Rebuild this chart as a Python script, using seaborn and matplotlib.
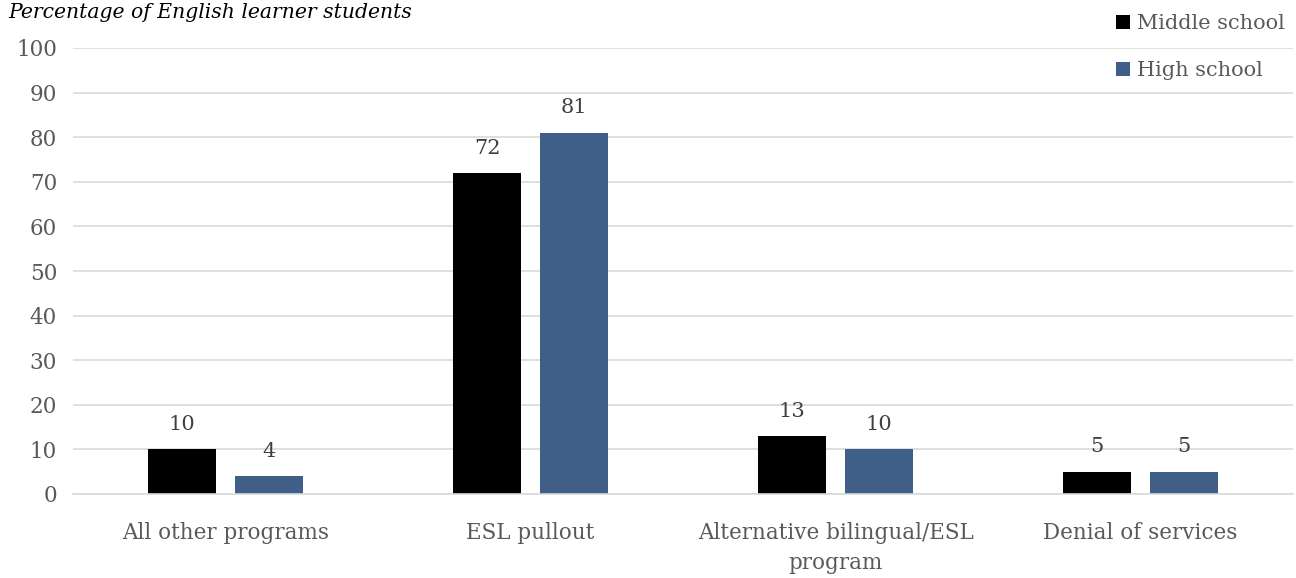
import matplotlib
matplotlib.use("Agg")
import matplotlib.pyplot as plt
import seaborn as sns
import pandas as pd

categories = ["All other programs", "ESL pullout", "Alternative bilingual/ESL\nprogram", "Denial of services"]
middle_school = [10, 72, 13, 5]
high_school = [4, 81, 10, 5]
series_names = ["Middle school", "High school"]
yticks = [0, 10, 20, 30, 40, 50, 60, 70, 80, 90, 100]

df = pd.DataFrame({
    "category": categories * 2,
    "value": middle_school + high_school,
    "series": [series_names[0]] * 4 + [series_names[1]] * 4,
})

sns.set_theme(style="white")
plt.rcParams["font.family"] = ["DejaVu Serif"]

fig = plt.figure(figsize=(12.96, 5.78), dpi=100)
ax = fig.add_axes([73 / 1296, 84 / 578, 1220 / 1296, 446 / 578])

palette = {series_names[0]: "#000000", series_names[1]: "#3F5E88"}
sns.barplot(data=df, x="category", y="value", hue="series", order=categories,
            hue_order=series_names, palette=palette, width=0.57, gap=0.22,
            saturation=1, ax=ax, legend=True, edgecolor="none")

text_col = "#595959"
for cont in ax.containers:
    ax.bar_label(cont, labels=[f"{v:.0f}" for v in cont.datavalues], padding=11,
                 fontsize=15, color="#404040")

ax.set_ylim(0, 100)
ax.set_xlim(-0.5, 3.5)
ax.set_yticks(yticks)
ax.yaxis.grid(True, color="#d9d9d9", linewidth=1.2)
ax.set_axisbelow(True)
for s in ["top", "right", "left"]:
    ax.spines[s].set_visible(False)
ax.spines["bottom"].set_color("#d9d9d9")
ax.spines["bottom"].set_linewidth(1.2)
ax.tick_params(axis="both", length=0, labelsize=15.5, colors=text_col)
ax.tick_params(axis="y", pad=11.5)
ax.tick_params(axis="x", pad=20)
for lbl in ax.get_xticklabels():
    lbl.set_linespacing(1.5)
ax.set_xlabel("")
ax.set_ylabel("")

fig.text(8 / 1296, 1 - 12 / 578, "Percentage of English learner students", fontsize=14.7,
         style="italic", color="#000000", va="center", ha="left")

ax.legend(loc="upper right", bbox_to_anchor=(1.0, 1.095), frameon=False, fontsize=15,
          labelcolor=text_col, handlelength=0.65, handleheight=0.65, handletextpad=0.35,
          labelspacing=1.35, borderaxespad=0)

fig.savefig("out.png", dpi=100)
